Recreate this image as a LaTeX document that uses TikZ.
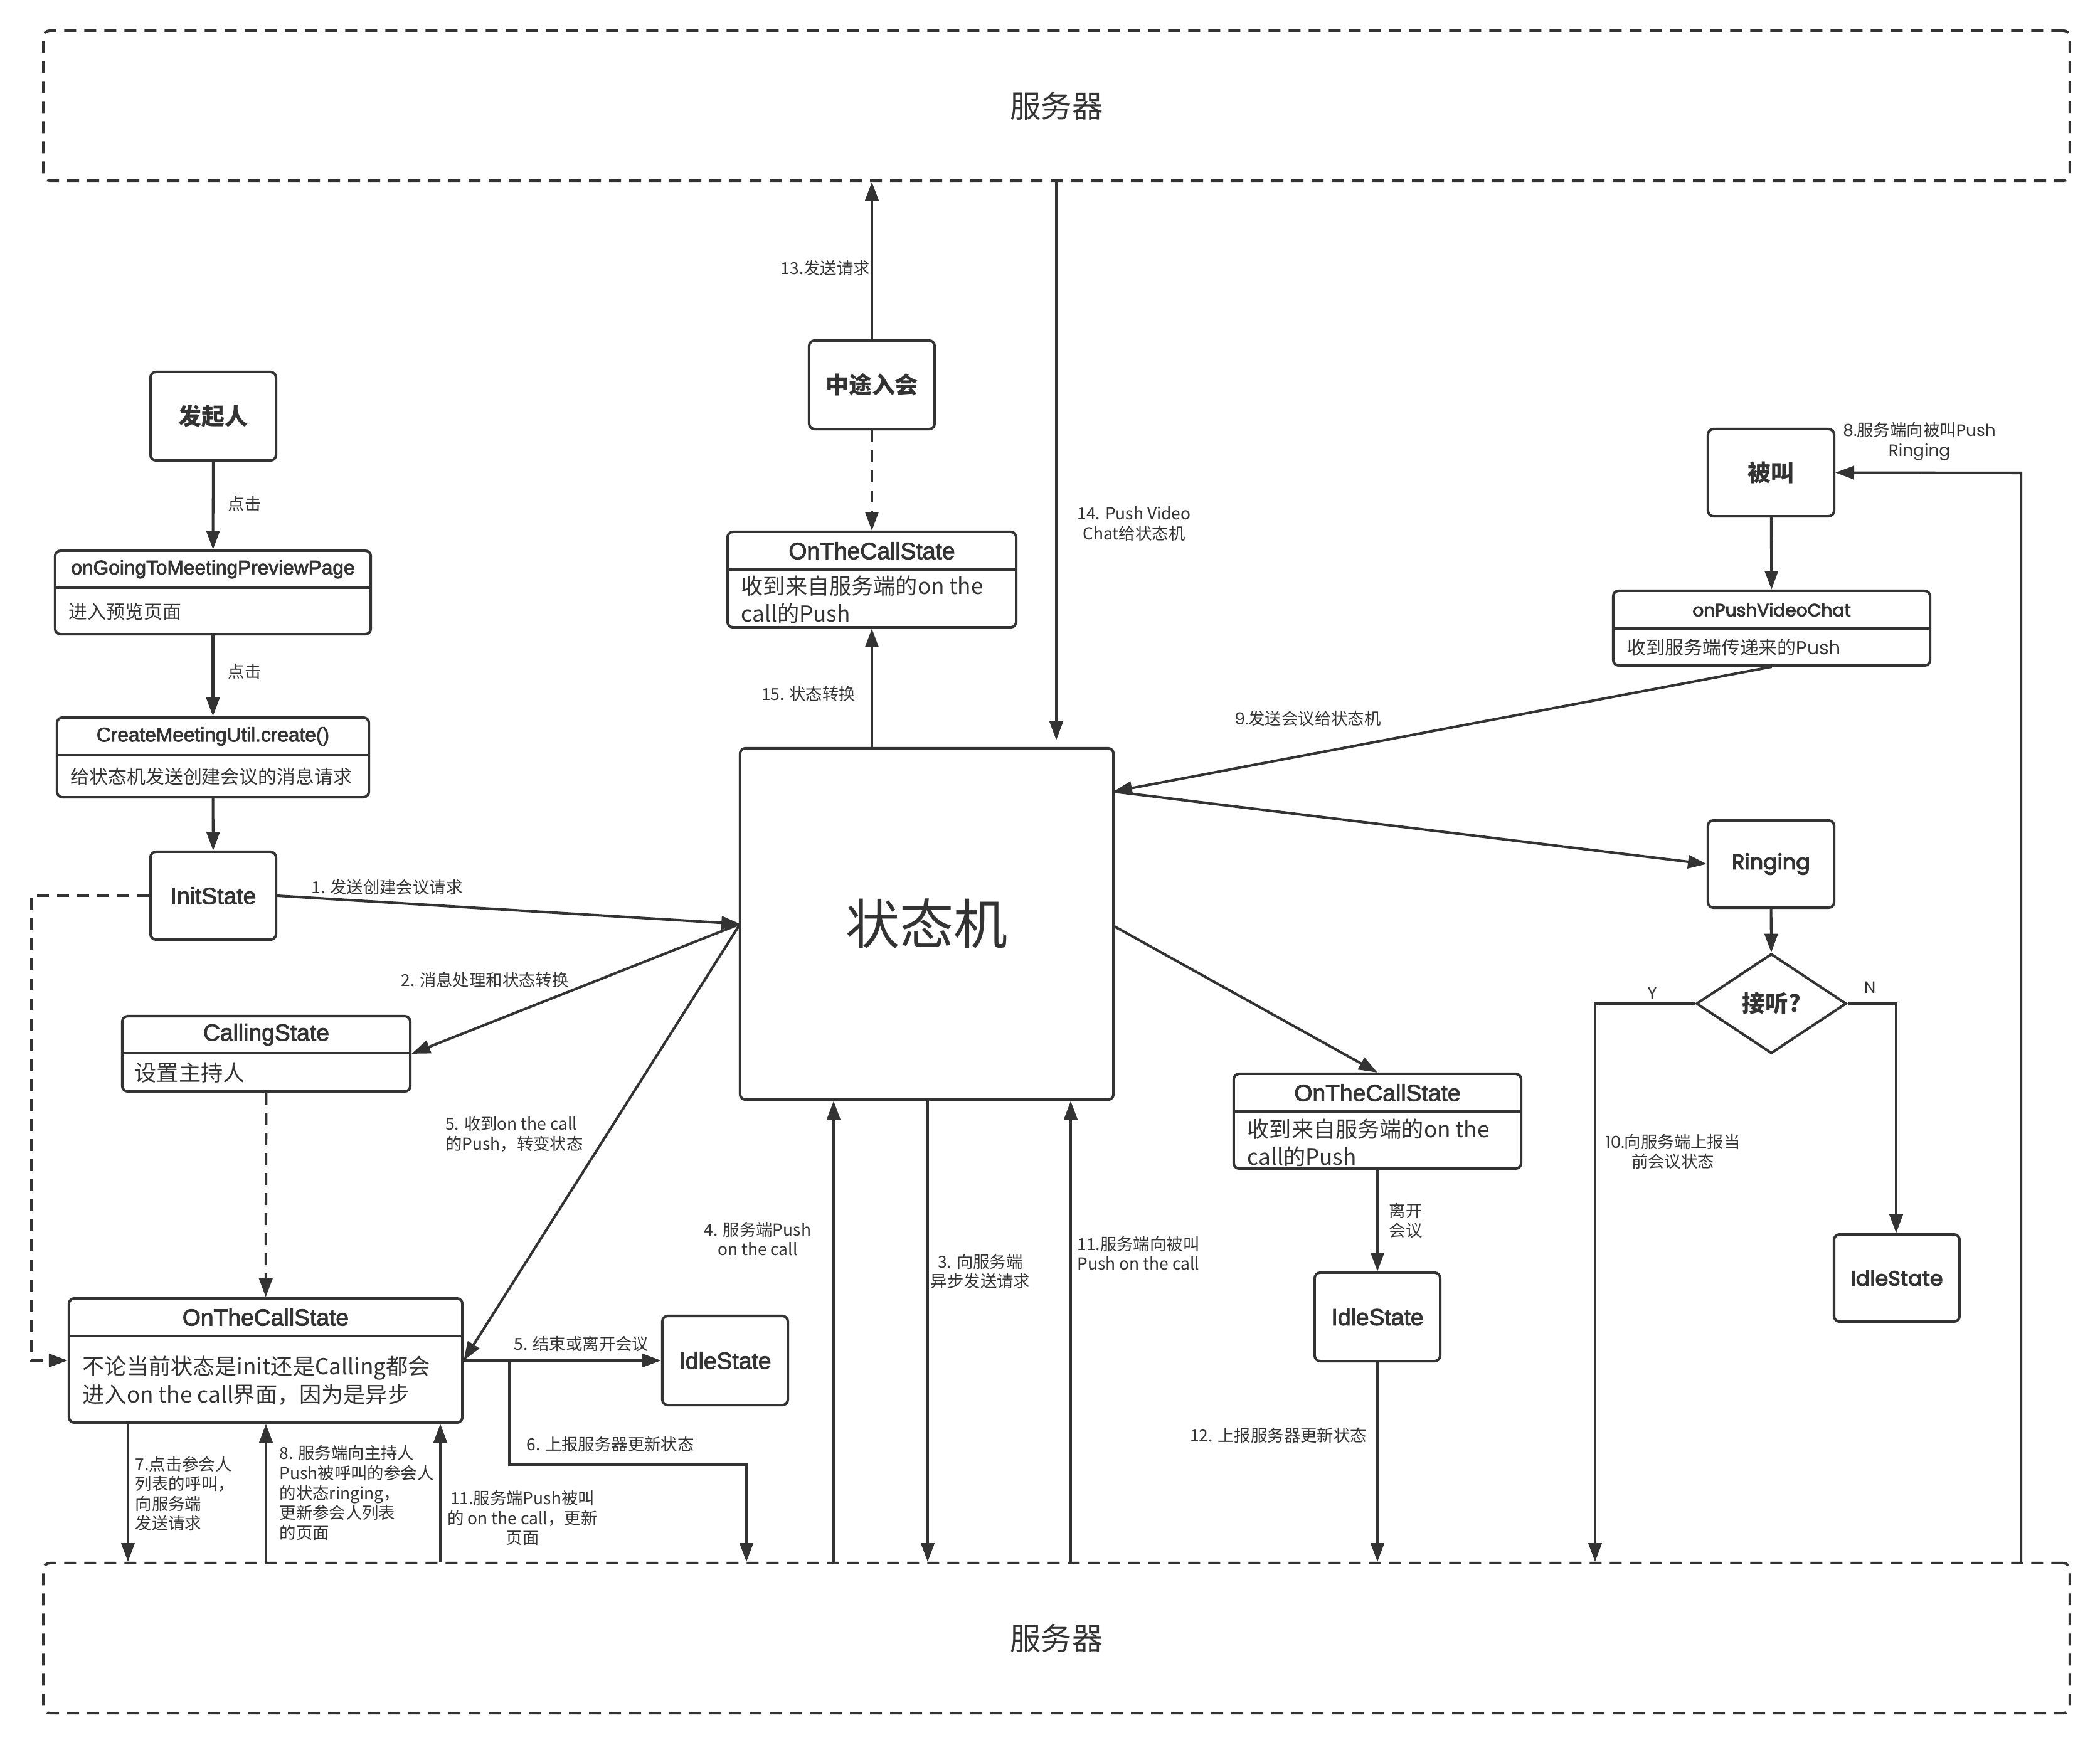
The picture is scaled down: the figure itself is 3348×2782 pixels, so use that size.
\documentclass[tikz,border=0pt]{standalone}
\usepackage{fontspec}
\setmainfont{Noto Sans CJK SC}
\newfontfamily\helv[FakeBold=2.5]{Liberation Sans}
\newfontfamily\popb[FakeBold=3.5]{Poppins}
\newfontfamily\pop{Poppins}
\usetikzlibrary{arrows.meta,shapes.geometric}
\definecolor{dk}{HTML}{333333}
\tikzset{
  lw/.style={line width=1.15pt},
  box/.style={draw=dk, lw, rounded corners=2.5pt, inner sep=0pt, text=dk},
  srv/.style={draw=dk, lw, rounded corners=3pt, dash pattern=on 5.4pt off 3.7pt, inner sep=0pt, text=dk, font=\fontsize{14}{16}\selectfont},
  htl/.style={text=dk, inner sep=0pt, font=\fontsize{9}{11}\helv},
  ltl/.style={text=dk, inner sep=0pt, font=\fontsize{10.6}{12}\helv},
  btl/.style={text=dk, inner sep=0pt, font=\fontsize{10.5}{12}\selectfont\bfseries},
  ptl/.style={text=dk, inner sep=0pt, font=\fontsize{9.5}{11}\popb},
  phl/.style={text=dk, inner sep=0pt, font=\fontsize{8}{10}\popb},
  bdy/.style={text=dk, inner sep=0pt, align=left, font=\fontsize{8.5}{10}\selectfont},
  big/.style={text=dk, inner sep=0pt, align=left, font=\fontsize{10}{12.6}\selectfont},
  lbl/.style={text=dk, inner sep=0pt, align=center, font=\fontsize{7.5}{9}\selectfont},
  lbll/.style={text=dk, inner sep=0pt, align=left, font=\fontsize{7.5}{9}\selectfont},
  arr/.style={draw=dk, lw, -{Triangle[length=8.5pt,width=6pt]}},
  ln/.style={draw=dk, lw},
  darr/.style={draw=dk, lw, dash pattern=on 5.4pt off 3.7pt, -{Triangle[length=8.5pt,width=6pt]}},
}
\begin{document}
\begin{tikzpicture}[x=0.01cm,y=-0.01cm]
\useasboundingbox (0,0) rectangle (3348,2782);

% servers
\node[srv, minimum width=32.29cm, minimum height=2.39cm] (srvT) at (1684.5,168.5) {服务器};
\node[srv, minimum width=32.29cm, minimum height=2.39cm] (srvB) at (1684.5,2611.5) {服务器};

% left column
\node[box, btl, minimum width=2cm, minimum height=1.41cm] (faqi) at (340,663.5) {发起人};

\node[box, minimum width=5.03cm, minimum height=1.33cm] (prev) at (339.5,944.5) {};
\draw[ln] (prev.west |- 0,937) -- (prev.east |- 0,937);
\node[htl] (prevT) at (339.5,907.5) {onGoingToMeetingPreviewPage};
\node[bdy, anchor=west] (prevB) at (109,975) {进入预览页面};

\node[box, minimum width=4.97cm, minimum height=1.27cm] (crt) at (339.5,1207.5) {};
\draw[ln] (crt.west |- 0,1204) -- (crt.east |- 0,1204);
\node[htl] (crtT) at (339.5,1174) {CreateMeetingUtil.create()};
\node[bdy, anchor=west] (crtB) at (112,1238) {给状态机发送创建会议的消息请求};

\node[box, ltl, minimum width=2cm, minimum height=1.40cm] (init) at (340,1428) {InitState};

\node[box, minimum width=4.59cm, minimum height=1.2cm] (call) at (424.5,1680) {};
\draw[ln] (call.west |- 0,1679) -- (call.east |- 0,1679);
\node[ltl] (callT) at (424.5,1649.5) {CallingState};
\node[big, anchor=west] (callB) at (214,1710) {设置主持人};

\node[box, minimum width=6.27cm, minimum height=1.98cm] (otcL) at (423.5,2169) {};
\draw[ln] (otcL.west |- 0,2130) -- (otcL.east |- 0,2130);
\node[ltl] (otcLT) at (423.5,2100) {OnTheCallState};
\node[big, anchor=west] (otcLB) at (131,2201) {不论当前状态是init还是Calling都会\\进入on the call界面，因为是异步};

\node[box, ltl, minimum width=2cm, minimum height=1.42cm] (idleL) at (1156,2169) {IdleState};

% center
\node[box, minimum width=5.95cm, minimum height=5.60cm, font=\fontsize{24.5}{28}\selectfont] (sm) at (1477.5,1473) {状态机};

\node[box, btl, minimum width=2cm, minimum height=1.41cm] (mid) at (1390,613.5) {中途入会};

\node[box, minimum width=4.6cm, minimum height=1.52cm] (otcT) at (1390,924) {};
\draw[ln] (otcT.west |- 0,908) -- (otcT.east |- 0,908);
\node[ltl] (otcTT) at (1390,878) {OnTheCallState};
\node[big, anchor=west] (otcTB) at (1181,956) {收到来自服务端的on the\\call的Push};

\node[box, minimum width=4.58cm, minimum height=1.51cm] (otcR) at (2196,1787.5) {};
\draw[ln] (otcR.west |- 0,1772) -- (otcR.east |- 0,1772);
\node[ltl] (otcRT) at (2196,1742) {OnTheCallState};
\node[big, anchor=west] (otcRB) at (1988,1822) {收到来自服务端的on the\\call的Push};

\node[box, ltl, minimum width=2cm, minimum height=1.41cm] (idleM) at (2196,2099.5) {IdleState};

% right
\node[box, btl, minimum width=2.01cm, minimum height=1.39cm] (bj) at (2823.5,753.5) {被叫};

\node[box, minimum width=5.05cm, minimum height=1.19cm] (pvc) at (2824.5,1001.5) {};
\draw[ln] (pvc.west |- 0,1002) -- (pvc.east |- 0,1002);
\node[phl] (pvcT) at (2824.5,972) {onPushVideoChat};
\node[bdy, anchor=west] (pvcB) at (2594,1032) {收到服务端传递来的{\pop Push}};

\node[box, ptl, minimum width=2.01cm, minimum height=1.39cm] (ring) at (2823.5,1377.5) {Ringing};

\node[diamond, draw=dk, lw, aspect=1.5, minimum width=2.39cm, minimum height=1.59cm, inner sep=0pt, btl] (ans) at (2824,1600) {接听?};

\node[box, ptl, minimum width=2cm, minimum height=1.39cm] (idleR) at (3024,2037.5) {IdleState};

% coordinates
\coordinate (lc) at (50,1428);
\coordinate (smL) at (1180,1473);
\coordinate (smR1) at (1775,1262);
\coordinate (smR2) at (1775,1476);
\coordinate (c6a) at (812,2169);
\coordinate (c6b) at (1190,2335);
\coordinate (x7) at (204,0);
\coordinate (x8) at (424,0);
\coordinate (x11) at (702,0);
\coordinate (x4) at (1329,0);
\coordinate (x3) at (1479,0);
\coordinate (x11r) at (1707,0);
\coordinate (x14) at (1684,0);
\coordinate (e14) at (1684,1180);
\coordinate (yc) at (2543,1600);
\coordinate (nc) at (3023,1600);
\coordinate (r8) at (3222,754);

% left connectors
\draw[arr] (faqi) -- (prev);
\draw[arr] (prev) -- (crt);
\draw[arr] (crt) -- (init);
\draw[arr] (init.east) -- (smL);
\draw[arr] (smL) -- (call.east);
\draw[arr] (smL) -- (otcL.east);
\draw[darr] (call) -- (otcL);
\draw[darr] (init.west) -- (lc) |- (otcL.west);
\draw[arr] (otcL.east) -- (idleL.west);
\draw[arr] (c6a) |- (c6b) -- (c6b |- srvB.north);
\draw[arr] (otcL.south -| x7) -- (srvB.north -| x7);
\draw[arr] (srvB.north -| x8) -- (otcL.south -| x8);
\draw[arr] (srvB.north -| x11) -- (otcL.south -| x11);

% center connectors
\draw[arr] (srvB.north -| x4) -- (sm.south -| x4);
\draw[arr] (sm.south -| x3) -- (srvB.north -| x3);
\draw[arr] (srvB.north -| x11r) -- (sm.south -| x11r);
\draw[arr] (mid) -- (srvT.south -| mid.north);
\draw[darr] (mid) -- (otcT);
\draw[arr] (sm.north -| otcT.south) -- (otcT.south);
\draw[arr] (srvT.south -| x14) -- (e14);
\draw[arr] (smR2) -- (otcR.north);
\draw[arr] (otcR) -- (idleM);
\draw[arr] (idleM) -- (srvB.north -| idleM.south);

% right connectors
\draw[arr] (bj) -- (pvc);
\draw[arr] (pvc.south) -- (smR1);
\draw[arr] (smR1) -- (ring.west);
\draw[arr] (ring) -- (ans);
\draw[arr] (ans.west) -- (yc) -- (yc |- srvB.north);
\draw[arr] (ans.east) -- (nc) -- (nc |- idleR.north);
\draw[arr] (srvB.north -| r8) -- (r8) -- (bj.east);

% labels
\node[lbll, anchor=west] (lk1) at (363,803) {点击};
\node[lbll, anchor=west] (lk2) at (363,1070) {点击};
\node[lbl] (l1) at (617,1415) {1. 发送创建会议请求};
\node[lbl] (l2) at (773,1562) {2. 消息处理和状态转换};
\node[lbll] (l5a) at (820,1808) {5. 收到on the call\\的Push，转变状态};
\node[lbl] (l5b) at (927,2142) {5. 结束或离开会议};
\node[lbl] (l6) at (973,2302) {6. 上报服务器更新状态};
\node[lbll, anchor=north west] (l7) at (215,2321) {7.点击参会人\\列表的呼叫，\\向服务端\\发送请求};
\node[lbll, anchor=north west] (l8) at (445,2304) {8. 服务端向主持人\\Push被呼叫的参会人\\的状态ringing，\\更新参会人列表\\的页面};
\node[lbl] (l11) at (833,2420) {11.服务端Push被叫\\的 on the call，更新\\页面};
\node[lbl] (l4) at (1208,1975) {4. 服务端Push\\on the call};
\node[lbl] (l3) at (1563,2027) {3. 向服务端\\异步发送请求};
\node[lbl] (l11r) at (1815,1998) {11.服务端向被叫\\Push on the call};
\node[lbll, anchor=west] (lleave) at (2214,1946) {离开\\会议};
\node[lbl] (l12) at (2038,2288) {12. 上报服务器更新状态};
\node[lbl] (l13) at (1316,427) {13.发送请求};
\node[lbl] (l15) at (1289,1106) {15. 状态转换};
\node[lbl] (l14) at (1808,835) {14. Push Video\\Chat给状态机};
\node[lbl] (l9) at (2085,1146) {{\pop 9.}发送会议给状态机};
\node[lbl] (l8r) at (3060,704) {{\pop 8.}服务端向被叫{\pop Push}\\{\pop Ringing}};
\node[lbl] (l10) at (2667,1836) {{\pop 10.}向服务端上报当\\前会议状态};
\node[lbl, font=\fontsize{7.5}{9}\pop] (lY) at (2634,1583) {Y};
\node[lbl, font=\fontsize{7.5}{9}\pop] (lN) at (2981,1574) {N};
\end{tikzpicture}
\end{document}
